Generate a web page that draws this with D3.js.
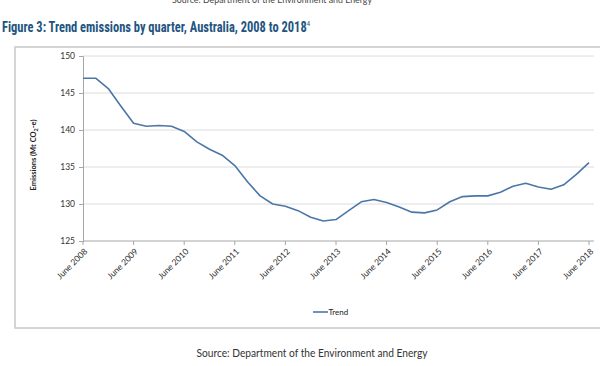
<!DOCTYPE html>
<html>
<head>
<meta charset="utf-8">
<script src="https://cdn.jsdelivr.net/npm/d3@7"></script>
<style>
  html, body { margin: 0; padding: 0; background: #fff; }
  svg { display: block; }
</style>
</head>
<body>
<svg id="chart" width="600" height="366"></svg>
<script>
// ---- data ----
const quarters = [
  "Jun 2008","Sep 2008","Dec 2008","Mar 2009",
  "Jun 2009","Sep 2009","Dec 2009","Mar 2010",
  "Jun 2010","Sep 2010","Dec 2010","Mar 2011",
  "Jun 2011","Sep 2011","Dec 2011","Mar 2012",
  "Jun 2012","Sep 2012","Dec 2012","Mar 2013",
  "Jun 2013","Sep 2013","Dec 2013","Mar 2014",
  "Jun 2014","Sep 2014","Dec 2014","Mar 2015",
  "Jun 2015","Sep 2015","Dec 2015","Mar 2016",
  "Jun 2016","Sep 2016","Dec 2016","Mar 2017",
  "Jun 2017","Sep 2017","Dec 2017","Mar 2018",
  "Jun 2018"
];
const trend = [
  147.0, 147.0, 145.6, 143.2,
  140.9, 140.5, 140.6, 140.5,
  139.8, 138.4, 137.4, 136.6,
  135.2, 133.0, 131.1, 130.0,
  129.7, 129.1, 128.2, 127.7,
  127.9, 129.1, 130.3, 130.6,
  130.2, 129.6, 128.9, 128.8,
  129.2, 130.3, 131.0, 131.1,
  131.1, 131.6, 132.4, 132.8,
  132.3, 132.0, 132.6, 134.0,
  135.6
];
const xTickLabels = ["June 2008","June 2009","June 2010","June 2011","June 2012","June 2013","June 2014","June 2015","June 2016","June 2017","June 2018"];
const xTickIndex = [0,4,8,12,16,20,24,28,32,36,40];
const yTicks = [125,130,135,140,145,150];
const seriesName = "Trend";
const titleText = "Figure 3: Trend emissions by quarter, Australia, 2008 to 2018";
const titleSup = "4";
const sourceText = "Source: Department of the Environment and Energy";
const yAxisTitle = "Emissions (Mt CO";

// ---- drawing ----
const svg = d3.select("#chart");
const chartFont = "Lato, 'Open Sans', sans-serif";
const condFont = "'Liberation Sans Narrow', 'Arial Narrow', 'Roboto Condensed', Lato, sans-serif";

// cropped source text at the very top (cut off in the reference too)
svg.append("text")
  .attr("x", 172).attr("y", 2.5)
  .attr("textLength", 200).attr("lengthAdjust", "spacingAndGlyphs")
  .attr("font-family", chartFont).attr("font-size", 10)
  .attr("fill", "#444").text(sourceText);

// title with superscript
const title = svg.append("text")
  .attr("x", 2).attr("y", 32)
  .attr("textLength", 308).attr("lengthAdjust", "spacingAndGlyphs")
  .attr("font-family", condFont).attr("font-size", 14).attr("font-weight", "bold")
  .attr("fill", "#225480");
title.append("tspan").text(titleText);
title.append("tspan").attr("font-size", 7.5).attr("font-weight", "normal").attr("dy", -6).text(titleSup);

// chart frame
svg.append("rect")
  .attr("x", 15).attr("y", 47).attr("width", 600).attr("height", 281)
  .attr("fill", "#fff").attr("stroke", "#c8c8c8").attr("stroke-width", 1.5);

const x = d3.scaleLinear().domain([0, quarters.length - 1]).range([83, 589]);
const y = d3.scaleLinear().domain([125, 150]).range([241, 56]);
const plotRight = 594;

// gridlines
svg.append("g").selectAll("line")
  .data(yTicks.filter(d => d > 125))
  .join("line")
  .attr("x1", x(0)).attr("x2", plotRight)
  .attr("y1", d => y(d)).attr("y2", d => y(d))
  .attr("stroke", "#dcdcdc").attr("stroke-width", 1);

// y axis
const yAxis = d3.axisLeft(y).tickValues(yTicks).tickSize(4).tickPadding(4).tickFormat(d3.format("d"));
const gy = svg.append("g").attr("transform", `translate(${x(0)},0)`).call(yAxis);
gy.select(".domain").attr("stroke", "#a6a6a6");
gy.selectAll(".tick line").attr("stroke", "#a6a6a6");
gy.selectAll(".tick text").attr("font-family", chartFont).attr("font-size", 8.5).attr("fill", "#333");

// x axis
const gx = svg.append("g").attr("transform", `translate(0,${y(125)})`);
gx.append("line").attr("x1", x(0)).attr("x2", plotRight).attr("y1", 0).attr("y2", 0)
  .attr("stroke", "#a6a6a6");
gx.selectAll("line.tk").data(xTickIndex).join("line").attr("class", "tk")
  .attr("x1", d => x(d)).attr("x2", d => x(d)).attr("y1", 0).attr("y2", 4)
  .attr("stroke", "#a6a6a6");
gx.selectAll("text").data(xTickIndex).join("text")
  .attr("transform", d => `translate(${x(d) + 5},${11}) rotate(-45)`)
  .attr("text-anchor", "end")
  .attr("font-family", chartFont).attr("font-size", 8.5).attr("fill", "#2a2a2a")
  .text((d, i) => xTickLabels[i]);

// y axis title
const yt = svg.append("text")
  .attr("transform", "translate(36,155) rotate(-90)")
  .attr("text-anchor", "middle")
  .attr("font-family", chartFont).attr("font-size", 7.5).attr("font-weight", "bold")
  .attr("fill", "#222");
yt.append("tspan").text(yAxisTitle);
yt.append("tspan").attr("font-size", 5.5).attr("dy", 2).text("2");
yt.append("tspan").attr("dy", -2).text("-e)");

// line
const line = d3.line().x((d, i) => x(i)).y(d => y(d));
svg.append("path").datum(trend)
  .attr("d", line).attr("fill", "none")
  .attr("stroke", "#4a76a8").attr("stroke-width", 1.6)
  .attr("stroke-linejoin", "round");

// legend
const lg = svg.append("g").attr("transform", "translate(313,312)");
lg.append("line").attr("x1", 0).attr("x2", 15).attr("y1", 0).attr("y2", 0)
  .attr("stroke", "#4a76a8").attr("stroke-width", 1.6);
lg.append("text").attr("x", 15.5).attr("y", 3)
  .attr("font-family", chartFont).attr("font-size", 8).attr("fill", "#222")
  .text(seriesName);

// bottom source
svg.append("text")
  .attr("x", 312).attr("y", 356.5).attr("text-anchor", "middle")
  .attr("textLength", 231).attr("lengthAdjust", "spacingAndGlyphs")
  .attr("font-family", chartFont).attr("font-size", 10.5)
  .attr("fill", "#333").text(sourceText);
</script>
</body>
</html>
